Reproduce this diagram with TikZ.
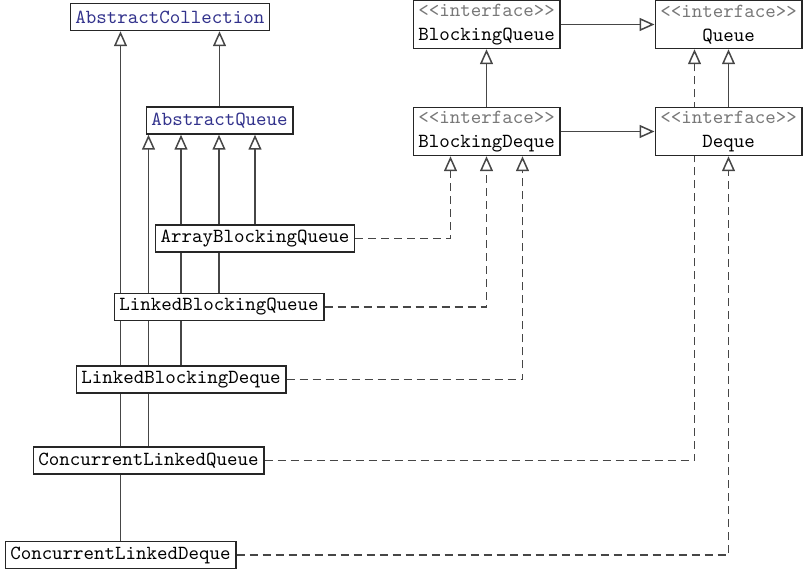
\documentclass[tikz,border=0pt]{standalone}
\usetikzlibrary{arrows.meta,backgrounds}
\definecolor{linegray}{RGB}{70,70,70}
\definecolor{absblue}{RGB}{50,50,140}
\definecolor{stereogray}{RGB}{120,120,120}
\newcommand{\stereo}{\textcolor{stereogray}{<\kern0pt<interface>\kern0pt>}}

\begin{document}
\begin{tikzpicture}[x=0.5pt,y=-0.5pt,
    cls/.style={draw=black!85, line width=0.75pt, fill=white,
      font=\ttfamily\fontsize{10}{12}\selectfont,
      inner xsep=2.5pt, inner ysep=0pt, minimum height=13.5pt},
    abs/.style={cls, text=absblue},
    intf/.style={cls, align=center, minimum height=24pt},
    ext/.style={linegray, line width=0.75pt, -{Triangle[open, length=7.5pt, width=6.5pt]}},
    impl/.style={ext, dash pattern=on 4pt off 2.5pt}]
  \useasboundingbox (0,0) rectangle (809,577);

  % classes
  \node[abs] (ac) at (170,17) {AbstractCollection};
  \node[abs] (aq) at (219.5,120.5) {AbstractQueue};
  \node[cls] (abq) at (255,238.5) {ArrayBlockingQueue};
  \node[cls] (lbq) at (219,307) {LinkedBlockingQueue};
  \node[cls] (lbd) at (181,379.5) {LinkedBlockingDeque};
  \node[cls] (clq) at (148.5,460.5) {ConcurrentLinkedQueue};
  \node[cls] (cld) at (120.5,555) {ConcurrentLinkedDeque};

  % interfaces
  \node[intf] (bq) at (486.5,24.5) {\stereo\\BlockingQueue};
  \node[intf] (q) at (728.5,24.5) {\stereo\\Queue};
  \node[intf] (bd) at (486.5,131.5) {\stereo\\BlockingDeque};
  \node[intf] (d) at (728.5,131.5) {\stereo\\Deque};

  \begin{scope}[on background layer]
    % extends
    \draw[ext] (aq.north) -- (aq.north |- ac.south);
    \draw[ext] (cld.north) -- (cld.north |- ac.south);
    \draw[ext] (clq.north) -- (clq.north |- aq.south);
    \draw[ext] (lbd.north) -- (lbd.north |- aq.south);
    \draw[ext] (lbq.north) -- (lbq.north |- aq.south);
    \draw[ext] (abq.north) -- (abq.north |- aq.south);
    \draw[ext] (bd.north) -- (bq.south);
    \draw[ext] (d.north) -- (q.south);
    \draw[ext] (bq.east) -- (q.west);
    \draw[ext] (bd.east) -- (d.west);
    % implements
    \draw[impl] (abq.east) -| ([xshift=-18pt]bd.south);
    \draw[impl] (lbq.east) -| (bd.south);
    \draw[impl] (lbd.east) -| ([xshift=18pt]bd.south);
    \draw[impl] (clq.east) -| ([xshift=-17pt]q.south);
    \draw[impl] (cld.east) -| (d.south);
  \end{scope}
\end{tikzpicture}
\end{document}
